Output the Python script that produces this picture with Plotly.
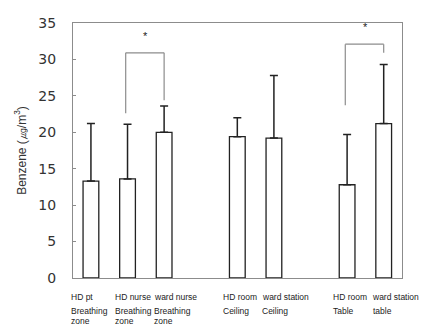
import plotly.graph_objects as go

# Benzene concentrations by sampling location (mean and upper SD)
positions = [0, 1, 2, 4, 5, 7, 8]
means = [13.3, 13.6, 20.0, 19.4, 19.2, 12.8, 21.2]
sds = [7.9, 7.5, 3.6, 2.6, 8.6, 6.9, 8.1]

label_line1 = ["HD pt", "HD nurse", "ward nurse", "HD room", "ward station", "HD room", "ward station"]
label_line2 = ["Breathing", "Breathing", "Breathing", "Ceiling", "Ceiling", "Table", "table"]
label_line3 = ["zone", "zone", "zone", "", "", "", ""]

y_ticks = [0, 5, 10, 15, 20, 25, 30, 35]

# Significance brackets: (left pos, right pos, left leg bottom, right leg bottom, top)
brackets = [
    (1, 2, 22.6, 24.4, 30.9),
    (7, 8, 23.7, 30.9, 32.1),
]

fig = go.Figure()
fig.add_trace(go.Bar(
    x=positions,
    y=means,
    width=0.43,
    marker=dict(color="white", line=dict(color="#222222", width=1.3)),
    error_y=dict(type="data", symmetric=False, array=sds,
                 arrayminus=[0] * len(sds), color="#222222",
                 thickness=1.5, width=4),
    showlegend=False,
    hoverinfo="skip",
))

box_color = "#8c8c8c"
shapes = []
for x0, x1, yb0, yb1, top in brackets:
    shapes.append(dict(type="line", xref="x", yref="y", x0=x0 - 0.05, x1=x0 - 0.05,
                       y0=yb0, y1=top, line=dict(color=box_color, width=1.2)))
    shapes.append(dict(type="line", xref="x", yref="y", x0=x0 - 0.05, x1=x1,
                       y0=top, y1=top, line=dict(color=box_color, width=1.2)))
    shapes.append(dict(type="line", xref="x", yref="y", x0=x1, x1=x1,
                       y0=yb1, y1=top, line=dict(color=box_color, width=1.2)))

annotations = []
for x0, x1, yb0, yb1, top in brackets:
    annotations.append(dict(x=(x0 + x1) / 2, y=top + 2.3, xref="x", yref="y",
                            text="*", showarrow=False,
                            font=dict(family="Liberation Sans", size=11, color="#222222")))

# Category label offsets (px from bar centre to left edge of text)
line1_shift = [-22, -15, -12.5, -16, -14, -16, -14]
line2_shift = [-22, -15, -12.5, -16, -14, -16, -12.5]
label_font = dict(family="Liberation Sans", size=8.5, color="#222222")
for i, p in enumerate(positions):
    rows = [(label_line1[i], -0.076, line1_shift[i]),
            (label_line2[i], -0.131, line2_shift[i]),
            (label_line3[i], -0.167, line2_shift[i])]
    for txt, yy, sh in rows:
        if txt:
            annotations.append(dict(x=p, y=yy, xref="x", yref="paper", text=txt,
                                    showarrow=False, xanchor="left", yanchor="middle",
                                    xshift=sh, font=label_font))

fig.update_layout(
    width=425, height=325,
    margin=dict(l=73, r=23, t=23, b=47),
    paper_bgcolor="white", plot_bgcolor="white",
    shapes=shapes, annotations=annotations,
    xaxis=dict(range=[-0.49, 8.5], showticklabels=False, ticks="",
               showgrid=False, zeroline=False, showline=True,
               linecolor=box_color, linewidth=1.3, mirror=True),
    yaxis=dict(range=[0, 35], tickvals=y_ticks, showgrid=False, zeroline=False,
               showline=True, linecolor=box_color, linewidth=1.3, mirror=True,
               ticks="inside", ticklen=3, tickcolor=box_color,
               ticklabelstandoff=13,
               tickfont=dict(family="DejaVu Sans", size=14, color="#333333"),
               title=dict(text="Benzene (㎍/m<sup>3</sup>)", standoff=9,
                          font=dict(family="Liberation Sans", size=12, color="#333333"))),
)

fig.write_html("out.html")
